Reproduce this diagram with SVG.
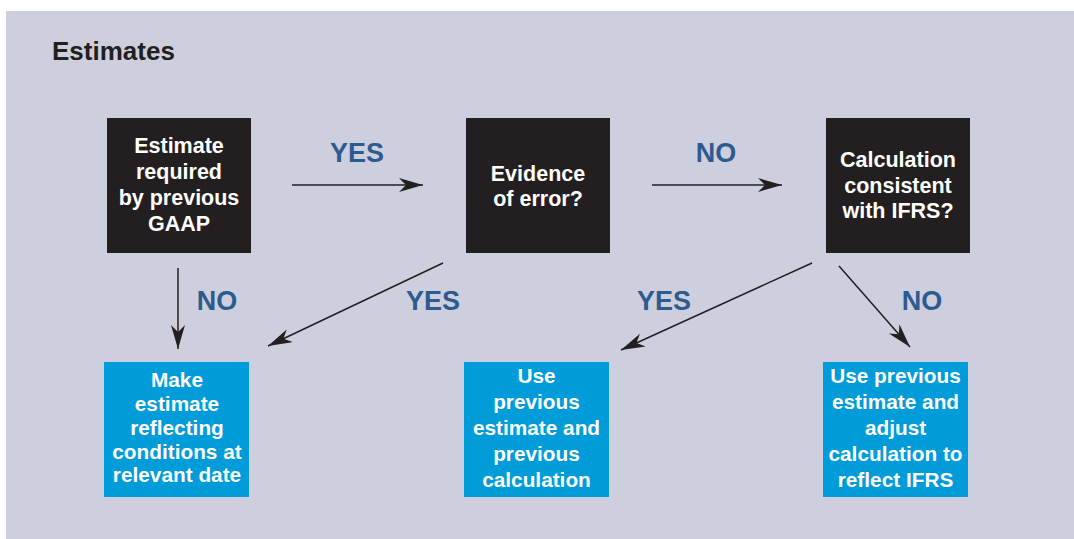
<svg xmlns="http://www.w3.org/2000/svg" width="1074" height="539" viewBox="0 0 1074 539">
  <style>
    .bg { fill: #CDCFDF; }
    .q { fill: #231F20; }
    .a { fill: #009BD9; }
    .t { font-family: "Liberation Sans", Arial, sans-serif; font-weight: bold; font-size: 21.5px; fill: #FFFFFF; text-anchor: middle; }
    .ta { font-size: 20.8px; }
    .lbl { font-family: "Liberation Sans", Arial, sans-serif; font-weight: bold; font-size: 27px; fill: #2D5B8E; text-anchor: middle; }
    .title { font-family: "Liberation Sans", Arial, sans-serif; font-weight: bold; font-size: 26px; fill: #231F20; }
    .c { stroke: #231F20; stroke-width: 1.5; fill: none; marker-end: url(#ah); }
  </style>
  <defs>
    <marker id="ah" markerUnits="userSpaceOnUse" markerWidth="26" markerHeight="16" refX="24" refY="7" orient="auto" viewBox="0 0 26 16">
      <path d="M0,0 L24,7 L0,14 L7,7 Z" fill="#231F20"/>
    </marker>
  </defs>
  <rect class="bg" x="6" y="11" width="1068" height="528"/>
  <text class="title" x="52" y="60">Estimates</text>

  <g id="n1">
    <rect class="q" x="107" y="118" width="144" height="135"/>
    <text class="t" x="179" y="153">Estimate</text>
    <text class="t" x="179" y="179">required</text>
    <text class="t" x="179" y="205">by previous</text>
    <text class="t" x="179" y="231">GAAP</text>
  </g>
  <g id="n2">
    <rect class="q" x="466" y="118" width="144" height="135"/>
    <text class="t" x="538" y="181">Evidence</text>
    <text class="t" x="538" y="206">of error?</text>
  </g>
  <g id="n3">
    <rect class="q" x="826" y="118" width="144" height="135"/>
    <text class="t" x="898" y="167">Calculation</text>
    <text class="t" x="898" y="193">consistent</text>
    <text class="t" x="898" y="218">with IFRS?</text>
  </g>
  <g id="n4">
    <rect class="a" x="104" y="362" width="145" height="135"/>
    <text class="t ta" x="177" y="387">Make</text>
    <text class="t ta" x="177" y="411">estimate</text>
    <text class="t ta" x="177" y="435">reflecting</text>
    <text class="t ta" x="177" y="459">conditions at</text>
    <text class="t ta" x="177" y="482">relevant date</text>
  </g>
  <g id="n5">
    <rect class="a" x="464" y="362" width="145" height="135"/>
    <text class="t ta" x="536.5" y="383">Use</text>
    <text class="t ta" x="536.5" y="409">previous</text>
    <text class="t ta" x="536.5" y="435">estimate and</text>
    <text class="t ta" x="536.5" y="461">previous</text>
    <text class="t ta" x="536.5" y="487">calculation</text>
  </g>
  <g id="n6">
    <rect class="a" x="823" y="362" width="145" height="135"/>
    <text class="t ta" x="895.5" y="383">Use previous</text>
    <text class="t ta" x="895.5" y="409">estimate and</text>
    <text class="t ta" x="895.5" y="435">adjust</text>
    <text class="t ta" x="895.5" y="461">calculation to</text>
    <text class="t ta" x="895.5" y="487">reflect IFRS</text>
  </g>

  <g id="connectors">
    <line class="c" x1="292" y1="185" x2="423" y2="185"/>
    <line class="c" x1="652" y1="185" x2="782" y2="185"/>
    <line class="c" x1="178" y1="268" x2="178" y2="349"/>
    <line class="c" x1="443" y1="263" x2="268" y2="346"/>
    <line class="c" x1="812" y1="263" x2="621" y2="350"/>
    <line class="c" x1="839" y1="266" x2="910" y2="347"/>
    <text class="lbl" x="357" y="162">YES</text>
    <text class="lbl" x="716" y="162">NO</text>
    <text class="lbl" x="217" y="310">NO</text>
    <text class="lbl" x="433" y="310">YES</text>
    <text class="lbl" x="664" y="310">YES</text>
    <text class="lbl" x="922" y="310">NO</text>
  </g>
</svg>
